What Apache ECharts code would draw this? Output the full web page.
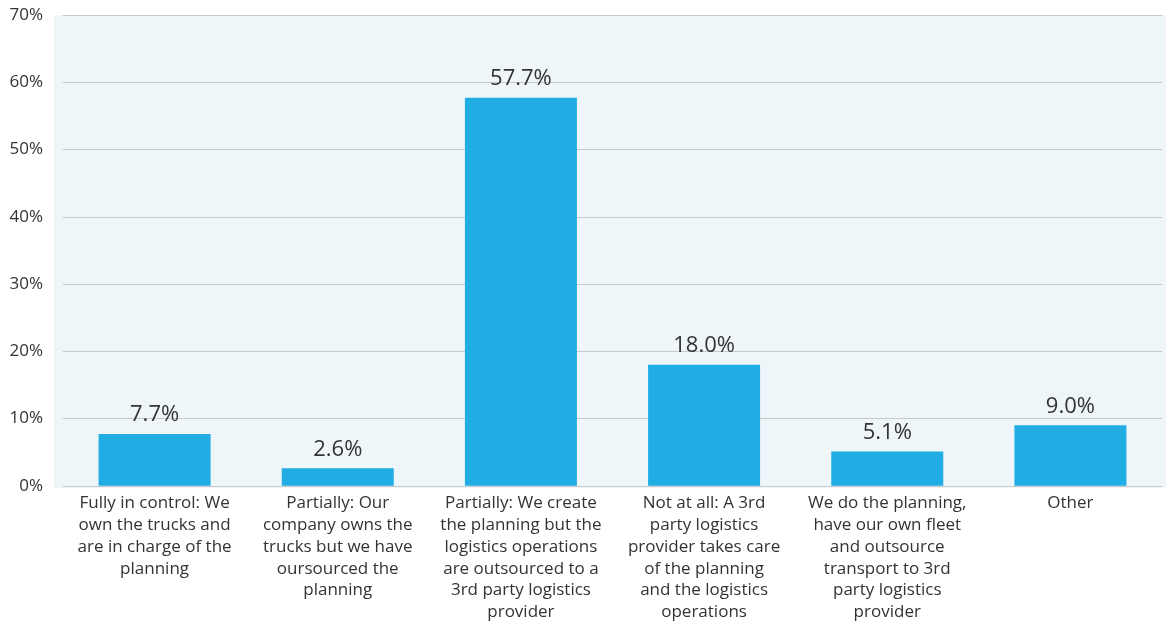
<!DOCTYPE html>
<html>
<head>
<meta charset="utf-8">
<script src="https://cdn.jsdelivr.net/npm/echarts@6/dist/echarts.min.js"></script>
<style>
  html, body { margin: 0; padding: 0; background: #fff; }
  #chart { width: 1166px; height: 623px; }
</style>
</head>
<body>
<div id="chart"></div>
<script>
// categories (line breaks as in the original)
const categories = [
  'Fully in control: We\nown the trucks and\nare in charge of the\nplanning',
  'Partially: Our\ncompany owns the\ntrucks but we have\noursourced the\nplanning',
  'Partially: We create\nthe planning but the\nlogistics operations\nare outsourced to a\n3rd party logistics\nprovider',
  'Not at all: A 3rd\nparty logistics\nprovider takes care\nof the planning\nand the logistics\noperations',
  'We do the planning,\nhave our own fleet\nand outsource\ntransport to 3rd\nparty logistics\nprovider',
  'Other'
];
const shares = [7.7, 2.6, 57.7, 18.0, 5.1, 9.0];

const chart = echarts.init(document.getElementById('chart'));

const option = {
  animation: false,
  textStyle: { fontFamily: 'Open Sans' },
  grid: { left: 63, right: 4, top: 15, bottom: 135 },
  // light blue plot background
  graphic: [{
    type: 'rect',
    z: -10,
    shape: { x: 54, y: 15, width: 1112, height: 473 },
    style: { fill: '#eef6fa' }
  }],
  xAxis: {
    type: 'category',
    data: categories,
    axisLine: { show: false },
    axisTick: { show: false },
    axisLabel: {
      interval: 0,
      margin: 7,
      color: '#333',
      fontSize: 17,
      lineHeight: 21.7,
      fontFamily: 'Open Sans'
    }
  },
  yAxis: {
    type: 'value',
    min: 0,
    max: 70,
    interval: 10,
    axisLine: { show: false },
    axisTick: { show: false },
    axisLabel: {
      formatter: '{value}%',
      color: '#333',
      fontSize: 17,
      margin: 20,
      fontFamily: 'Open Sans'
    },
    splitLine: { lineStyle: { color: '#c8c8c8', width: 1 } }
  },
  series: [{
    type: 'bar',
    data: shares,
    barWidth: 112,
    itemStyle: { color: '#1fade4' },
    label: {
      show: true,
      position: 'top',
      distance: 8,
      color: '#333',
      fontSize: 22,
      fontFamily: 'Open Sans',
      formatter: p => p.value.toFixed(1) + '%'
    }
  }]
};

chart.setOption(option);
</script>
</body>
</html>
